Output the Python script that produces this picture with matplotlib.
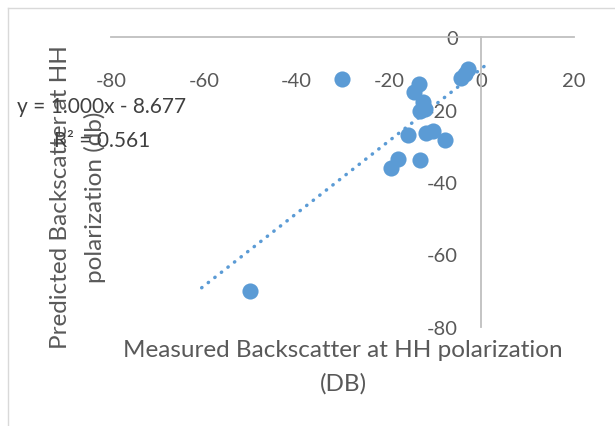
import matplotlib
matplotlib.use("Agg")
import matplotlib.pyplot as plt
from matplotlib.lines import Line2D

# measured vs predicted backscatter (dB)
measured = [-30.2, -3.0, -3.5, -4.4, -13.6, -14.5, -12.7, -13.4, -12.3,
            -15.8, -12.1, -10.4, -7.8, -18.1, -19.5, -13.2, -50.1]
predicted = [-11.6, -8.8, -10.2, -11.2, -13.0, -15.2, -18.0, -20.4, -19.8,
             -26.9, -26.4, -25.8, -28.3, -33.6, -36.1, -33.8, -70.2]

# trendline as shown in the chart label
slope = 1.000
intercept = -8.677
trend_x = [-60.5, 1.3]

x_ticks = [-80, -60, -40, -20, 0, 20]
y_ticks = [-80, -60, -40, -20, 0]

blue = "#5B9BD5"
grey_txt = "#595959"
axis_col = "#BFBFBF"

plt.rcParams['font.family'] = ['Lato', 'DejaVu Sans']
plt.rcParams['axes.unicode_minus'] = False

fig = plt.figure(figsize=(6.15, 4.27), dpi=100)
ax = fig.add_axes([0.1813, 0.2319, 0.752, 0.679])

ax.scatter(measured, predicted, s=135, color=blue, zorder=3, linewidths=0)
trend_y = [slope * v + intercept for v in trend_x]
ax.plot(trend_x, trend_y, color=blue, lw=2.5, dashes=(0.1, 2.3),
        dash_capstyle='round', zorder=2)

ax.set_xlim(-80, 20)
ax.set_ylim(-80, 0)
ax.set_xticks(x_ticks)
ax.set_yticks(y_ticks)

for side in ['top', 'right']:
    ax.spines[side].set_visible(False)
ax.spines['left'].set_position(('data', 0))
ax.spines['bottom'].set_position(('data', 0))
for side in ['left', 'bottom']:
    ax.spines[side].set_color(axis_col)
    ax.spines[side].set_linewidth(1.3)

ax.tick_params(axis='x', length=0, pad=25, labelsize=14.5, labelcolor=grey_txt)
ax.tick_params(axis='y', length=0, pad=17, labelsize=14.5, labelcolor=grey_txt)

# axis titles
fig.text(343 / 615, 1 - 367 / 427, "Measured Backscatter at HH polarization\n(DB)",
         ha='center', va='center', fontsize=17.5, color=grey_txt, linespacing=1.7)
fig.text(78 / 615, 1 - 197 / 427, "Predicted Backscatter at HH\npolarization (db)",
         ha='center', va='center', rotation=90, fontsize=17.5, color=grey_txt,
         linespacing=1.7)

# trendline equation
fig.text(102 / 615, 1 - 124 / 427,
         "y = %.3fx - %.3f\nR² = 0.561" % (slope, -intercept),
         ha='center', va='center', fontsize=15, color="#404040", linespacing=1.85)

# chart frame
fig.add_artist(Line2D([8 / 615, 8 / 615], [1 - 9 / 427, -0.1], color="#D9D9D9", lw=1))
fig.add_artist(Line2D([8 / 615, 1.1], [1 - 9 / 427, 1 - 9 / 427], color="#D9D9D9", lw=1))

fig.savefig("out.png", dpi=100)
